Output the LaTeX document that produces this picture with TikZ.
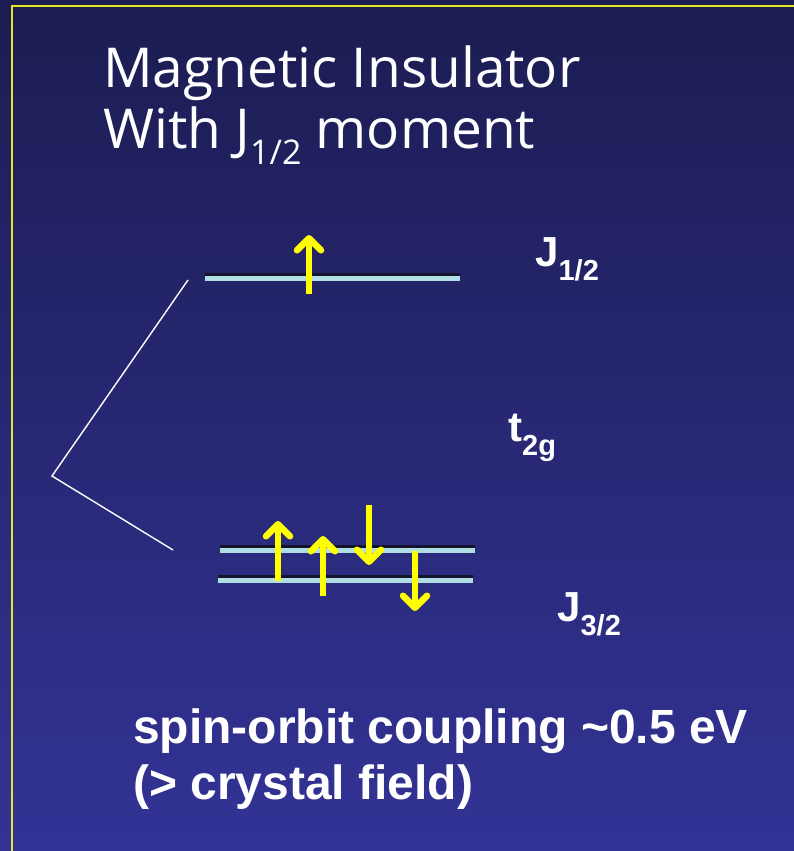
\documentclass[tikz,border=0pt]{standalone}
\usepackage{fontspec}
\setmainfont{Liberation Sans}
\newfontfamily\titlefont{Open Sans}
\usetikzlibrary{arrows.meta}
\definecolor{bgtop}{RGB}{28,28,82}
\definecolor{bgbot}{RGB}{51,51,150}
\definecolor{levelc}{RGB}{176,222,228}
\definecolor{shadowc}{RGB}{20,20,45}
\definecolor{arrc}{RGB}{255,255,0}
\definecolor{framec}{RGB}{230,230,40}
\tikzset{
  level/.style={levelc, line width=5pt},
  levelshadow/.style={shadowc, line width=3pt},
  spin/.style={arrc, line width=6.5pt, -{Straight Barb[length=12pt,width=24pt,line cap=round,line join=round]}},
  conn/.style={white, line width=1.4pt},
  lbl/.style={text=white, font=\bfseries\fontsize{42}{48}\selectfont, inner sep=0pt, anchor=base west},
  ttl/.style={text=white, font=\titlefont\fontsize{55}{64}\selectfont, inner sep=0pt, anchor=base west},
  note/.style={text=white, font=\bfseries\fontsize{48}{56}\selectfont, inner sep=0pt, anchor=base west}
}
\begin{document}
\begin{tikzpicture}[x=1pt,y=-1pt]
\shade[top color=bgtop, bottom color=bgbot] (0,0) rectangle (794,851);
\useasboundingbox (0,0) rectangle (794,851);
\draw[framec, line width=2pt] (12,851) -- (12,6) -- (794,6);
% title
\node[ttl] (t1) at (103,88) {Magnetic Insulator};
\node[ttl] (t2) at (103,148) {With J\raisebox{-0.3em}{\fontsize{34}{38}\selectfont 1/2} moment};
% levels
\coordinate (a1) at (205,278); \coordinate (a2) at (460,278);
\coordinate (b1) at (220,550); \coordinate (b2) at (475,550);
\coordinate (c1) at (218,580); \coordinate (c2) at (473,580);
\draw[levelshadow] ([yshift=4]a1) -- ([yshift=4]a2);
\draw[levelshadow] ([yshift=4]b1) -- ([yshift=4]b2);
\draw[levelshadow] ([yshift=4]c1) -- ([yshift=4]c2);
\draw[level] (a1) -- (a2);
\draw[level] (b1) -- (b2);
\draw[level] (c1) -- (c2);
% connectors
\coordinate (k1) at (188,280);
\coordinate (k2) at (52,476);
\coordinate (k3) at (173,550);
\draw[conn] (k1) -- (k2) -- (k3);
% spins
\coordinate (s1a) at (309,294); \coordinate (s1b) at (309,235);
\coordinate (s2a) at (278,581); \coordinate (s2b) at (278,521);
\coordinate (s3a) at (323,596); \coordinate (s3b) at (323,536);
\coordinate (s4a) at (369,505); \coordinate (s4b) at (369,565);
\coordinate (s5a) at (415,551); \coordinate (s5b) at (415,611);
\draw[spin] (s1a) -- (s1b);
\draw[spin] (s2a) -- (s2b);
\draw[spin] (s3a) -- (s3b);
\draw[spin] (s4a) -- (s4b);
\draw[spin] (s5a) -- (s5b);
% labels
\node[lbl] (j1) at (535,266) {J\raisebox{-0.35em}{\fontsize{29}{32}\selectfont 1/2}};
\node[lbl] (t2g) at (508,441) {t\raisebox{-0.35em}{\fontsize{29}{32}\selectfont 2g}};
\node[lbl] (j3) at (557,621) {J\raisebox{-0.35em}{\fontsize{29}{32}\selectfont 3/2}};
\node[note] (n1) at (133,743) {spin-orbit coupling \textasciitilde 0.5 eV};
\node[note] (n2) at (133,799) {(> crystal field)};
\end{tikzpicture}
\end{document}
